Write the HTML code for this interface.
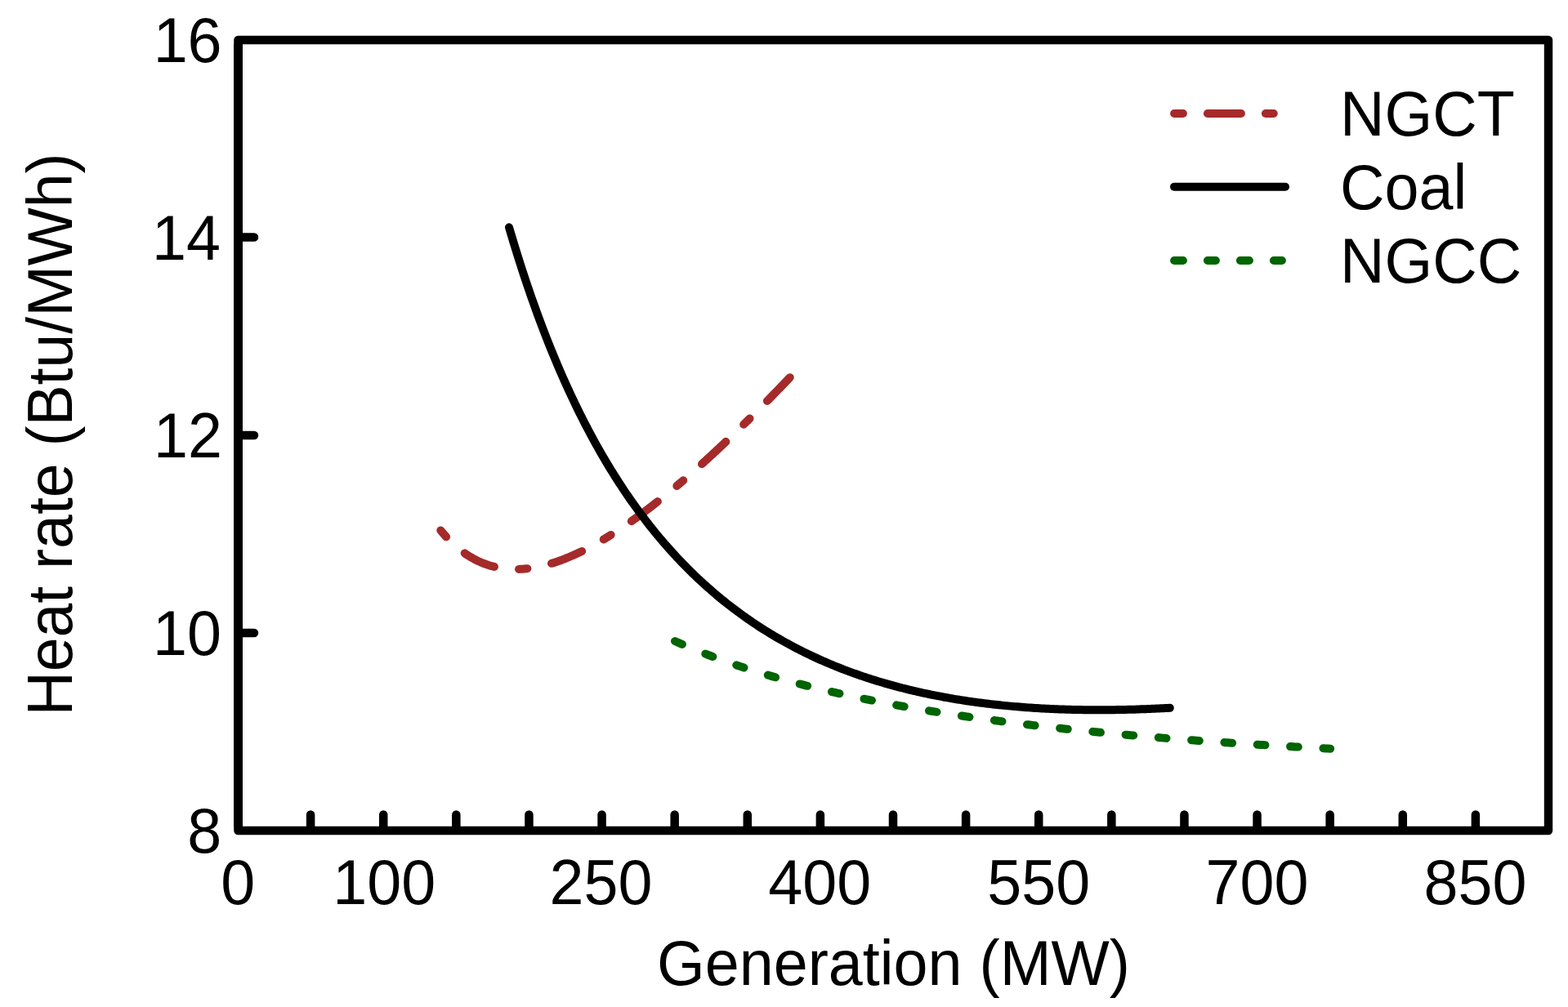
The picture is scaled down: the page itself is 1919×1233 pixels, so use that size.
<!DOCTYPE html>
<html><head><meta charset="utf-8"><title>Heat rate vs Generation</title>
<style>html,body{margin:0;padding:0;background:#fff;overflow:hidden}svg{display:block}</style></head>
<body><svg width="1919" height="1233" viewBox="0 0 1919 1233">
<rect width="1919" height="1233" fill="#fff"/>
<path d="M291.4,49 L1895,49 L1895,1017 L291.4,1017 Z" fill="none" stroke="#000" stroke-width="10.4" stroke-linejoin="round"/>
<rect x="286" y="54" width="11" height="958" fill="#000"/>
<path d="M292,290.5 L311,290.5 M292,533 L311,533 M292,775 L311,775 M380.11,1016 L380.11,997.5 M469.22,1016 L469.22,997.5 M558.33,1016 L558.33,997.5 M647.44,1016 L647.44,997.5 M736.56,1016 L736.56,997.5 M825.67,1016 L825.67,997.5 M914.78,1016 L914.78,997.5 M1003.89,1016 L1003.89,997.5 M1093.00,1016 L1093.00,997.5 M1182.11,1016 L1182.11,997.5 M1271.22,1016 L1271.22,997.5 M1360.33,1016 L1360.33,997.5 M1449.44,1016 L1449.44,997.5 M1538.55,1016 L1538.55,997.5 M1627.66,1016 L1627.66,997.5 M1716.78,1016 L1716.78,997.5 M1805.89,1016 L1805.89,997.5" stroke="#000" stroke-width="10.5" stroke-linecap="round" fill="none"/>
<path d="M826.00,785.05 L828.68,786.25 L831.37,787.43 L834.05,788.60 L836.73,789.76 L839.41,790.91 L842.10,792.04 L844.78,793.17 L847.46,794.28 L850.14,795.38 L852.83,796.47 L855.51,797.54 L858.19,798.61 L860.87,799.67 L863.56,800.71 L866.24,801.75 L868.92,802.77 L871.60,803.79 L874.29,804.80 L876.97,805.79 L879.65,806.78 L882.33,807.75 L885.02,808.72 L887.70,809.68 L890.38,810.63 L893.07,811.56 L895.75,812.49 L898.43,813.42 L901.11,814.33 L903.80,815.23 L906.48,816.13 L909.16,817.02 L911.84,817.90 L914.53,818.77 L917.21,819.63 L919.89,820.48 L922.57,821.33 L925.26,822.17 L927.94,823.00 L930.62,823.83 L933.30,824.64 L935.99,825.45 L938.67,826.25 L941.35,827.05 L944.03,827.84 L946.72,828.62 L949.40,829.39 L952.08,830.16 L954.77,830.92 L957.45,831.67 L960.13,832.42 L962.81,833.16 L965.50,833.90 L968.18,834.62 L970.86,835.35 L973.54,836.06 L976.23,836.77 L978.91,837.47 L981.59,838.17 L984.27,838.86 L986.96,839.55 L989.64,840.23 L992.32,840.90 L995.00,841.57 L997.69,842.23 L1000.37,842.89 L1003.05,843.54 L1005.73,844.19 L1008.42,844.83 L1011.10,845.46 L1013.78,846.09 L1016.47,846.72 L1019.15,847.34 L1021.83,847.95 L1024.51,848.56 L1027.20,849.17 L1029.88,849.77 L1032.56,850.36 L1035.24,850.96 L1037.93,851.54 L1040.61,852.12 L1043.29,852.70 L1045.97,853.27 L1048.66,853.84 L1051.34,854.40 L1054.02,854.96 L1056.70,855.52 L1059.39,856.06 L1062.07,856.61 L1064.75,857.15 L1067.43,857.69 L1070.12,858.22 L1072.80,858.75 L1075.48,859.28 L1078.17,859.80 L1080.85,860.31 L1083.53,860.83 L1086.21,861.33 L1088.90,861.84 L1091.58,862.34 L1094.26,862.84 L1096.94,863.33 L1099.63,863.82 L1102.31,864.31 L1104.99,864.79 L1107.67,865.27 L1110.36,865.74 L1113.04,866.22 L1115.72,866.68 L1118.40,867.15 L1121.09,867.61 L1123.77,868.07 L1126.45,868.52 L1129.13,868.97 L1131.82,869.42 L1134.50,869.87 L1137.18,870.31 L1139.87,870.75 L1142.55,871.18 L1145.23,871.61 L1147.91,872.04 L1150.60,872.47 L1153.28,872.89 L1155.96,873.31 L1158.64,873.73 L1161.33,874.14 L1164.01,874.55 L1166.69,874.96 L1169.37,875.36 L1172.06,875.76 L1174.74,876.16 L1177.42,876.56 L1180.10,876.95 L1182.79,877.34 L1185.47,877.73 L1188.15,878.12 L1190.83,878.50 L1193.52,878.88 L1196.20,879.26 L1198.88,879.63 L1201.57,880.00 L1204.25,880.37 L1206.93,880.74 L1209.61,881.10 L1212.30,881.46 L1214.98,881.82 L1217.66,882.18 L1220.34,882.53 L1223.03,882.89 L1225.71,883.23 L1228.39,883.58 L1231.07,883.93 L1233.76,884.27 L1236.44,884.61 L1239.12,884.95 L1241.80,885.28 L1244.49,885.62 L1247.17,885.95 L1249.85,886.27 L1252.53,886.60 L1255.22,886.93 L1257.90,887.25 L1260.58,887.57 L1263.27,887.88 L1265.95,888.20 L1268.63,888.51 L1271.31,888.83 L1274.00,889.13 L1276.68,889.44 L1279.36,889.75 L1282.04,890.05 L1284.73,890.35 L1287.41,890.65 L1290.09,890.95 L1292.77,891.24 L1295.46,891.54 L1298.14,891.83 L1300.82,892.12 L1303.50,892.41 L1306.19,892.69 L1308.87,892.98 L1311.55,893.26 L1314.23,893.54 L1316.92,893.82 L1319.60,894.09 L1322.28,894.37 L1324.97,894.64 L1327.65,894.91 L1330.33,895.18 L1333.01,895.45 L1335.70,895.72 L1338.38,895.98 L1341.06,896.24 L1343.74,896.50 L1346.43,896.76 L1349.11,897.02 L1351.79,897.28 L1354.47,897.53 L1357.16,897.78 L1359.84,898.04 L1362.52,898.28 L1365.20,898.53 L1367.89,898.78 L1370.57,899.02 L1373.25,899.27 L1375.93,899.51 L1378.62,899.75 L1381.30,899.99 L1383.98,900.23 L1386.67,900.46 L1389.35,900.70 L1392.03,900.93 L1394.71,901.16 L1397.40,901.39 L1400.08,901.62 L1402.76,901.84 L1405.44,902.07 L1408.13,902.29 L1410.81,902.52 L1413.49,902.74 L1416.17,902.96 L1418.86,903.18 L1421.54,903.39 L1424.22,903.61 L1426.90,903.83 L1429.59,904.04 L1432.27,904.25 L1434.95,904.46 L1437.63,904.67 L1440.32,904.88 L1443.00,905.08 L1445.68,905.29 L1448.37,905.49 L1451.05,905.70 L1453.73,905.90 L1456.41,906.10 L1459.10,906.30 L1461.78,906.50 L1464.46,906.69 L1467.14,906.89 L1469.83,907.08 L1472.51,907.28 L1475.19,907.47 L1477.87,907.66 L1480.56,907.85 L1483.24,908.04 L1485.92,908.23 L1488.60,908.41 L1491.29,908.60 L1493.97,908.78 L1496.65,908.96 L1499.33,909.14 L1502.02,909.33 L1504.70,909.51 L1507.38,909.68 L1510.07,909.86 L1512.75,910.04 L1515.43,910.21 L1518.11,910.39 L1520.80,910.56 L1523.48,910.73 L1526.16,910.90 L1528.84,911.07 L1531.53,911.24 L1534.21,911.41 L1536.89,911.58 L1539.57,911.74 L1542.26,911.91 L1544.94,912.07 L1547.62,912.23 L1550.30,912.40 L1552.99,912.56 L1555.67,912.72 L1558.35,912.88 L1561.03,913.03 L1563.72,913.19 L1566.40,913.35 L1569.08,913.50 L1571.77,913.66 L1574.45,913.81 L1577.13,913.96 L1579.81,914.11 L1582.50,914.26 L1585.18,914.41 L1587.86,914.56 L1590.54,914.71 L1593.23,914.86 L1595.91,915.00 L1598.59,915.15 L1601.27,915.29 L1603.96,915.44 L1606.64,915.58 L1609.32,915.72 L1612.00,915.86 L1614.69,916.00 L1617.37,916.14 L1620.05,916.28 L1622.73,916.42 L1625.42,916.55 L1628.10,916.69" stroke="#006400" stroke-width="10" stroke-linecap="round" fill="none" stroke-dasharray="9.7 30.71"/>
<path d="M539.30,649.42 L540.73,651.16 L542.16,652.85 L543.59,654.51 L545.02,656.12 L546.45,657.69 L547.88,659.22 L549.31,660.71 L550.74,662.16 L552.17,663.58 L553.60,664.95 L555.03,666.30 L556.46,667.60 L557.89,668.87 L559.32,670.10 L560.75,671.30 L562.18,672.47 L563.61,673.60 L565.04,674.70 L566.47,675.77 L567.90,676.80 L569.33,677.81 L570.76,678.78 L572.19,679.73 L573.62,680.64 L575.05,681.52 L576.48,682.38 L577.91,683.20 L579.34,684.00 L580.77,684.77 L582.20,685.51 L583.63,686.23 L585.06,686.92 L586.49,687.58 L587.92,688.22 L589.35,688.83 L590.78,689.42 L592.21,689.98 L593.64,690.52 L595.07,691.03 L596.50,691.52 L597.93,691.99 L599.36,692.44 L600.79,692.86 L602.22,693.26 L603.65,693.63 L605.08,693.99 L606.51,694.32 L607.94,694.63 L609.37,694.93 L610.81,695.20 L612.24,695.45 L613.67,695.68 L615.10,695.89 L616.53,696.08 L617.96,696.25 L619.39,696.41 L620.82,696.54 L622.25,696.66 L623.68,696.75 L625.11,696.83 L626.54,696.89 L627.97,696.94 L629.40,696.97 L630.83,696.98 L632.26,696.97 L633.69,696.94 L635.12,696.90 L636.55,696.85 L637.98,696.77 L639.41,696.68 L640.84,696.58 L642.27,696.46 L643.70,696.32 L645.13,696.17 L646.56,696.01 L647.99,695.83 L649.42,695.63 L650.85,695.42 L652.28,695.20 L653.71,694.96 L655.14,694.71 L656.57,694.44 L658.00,694.16 L659.43,693.87 L660.86,693.56 L662.29,693.24 L663.72,692.91 L665.15,692.57 L666.58,692.21 L668.01,691.84 L669.44,691.45 L670.87,691.06 L672.30,690.65 L673.73,690.23 L675.16,689.80 L676.59,689.36 L678.02,688.91 L679.45,688.44 L680.88,687.96 L682.31,687.47 L683.74,686.97 L685.17,686.46 L686.60,685.94 L688.03,685.41 L689.46,684.87 L690.89,684.32 L692.32,683.75 L693.75,683.18 L695.18,682.59 L696.61,682.00 L698.04,681.40 L699.47,680.78 L700.90,680.16 L702.33,679.52 L703.76,678.88 L705.19,678.23 L706.62,677.57 L708.05,676.90 L709.48,676.22 L710.91,675.53 L712.34,674.83 L713.77,674.12 L715.20,673.41 L716.63,672.68 L718.06,671.95 L719.49,671.21 L720.92,670.46 L722.35,669.70 L723.78,668.93 L725.21,668.16 L726.64,667.37 L728.07,666.58 L729.50,665.78 L730.93,664.98 L732.36,664.16 L733.79,663.34 L735.22,662.51 L736.65,661.67 L738.08,660.82 L739.51,659.97 L740.94,659.11 L742.37,658.24 L743.80,657.37 L745.23,656.49 L746.66,655.60 L748.09,654.70 L749.52,653.80 L750.95,652.89 L752.38,651.97 L753.82,651.05 L755.25,650.12 L756.68,649.18 L758.11,648.24 L759.54,647.29 L760.97,646.33 L762.40,645.37 L763.83,644.40 L765.26,643.43 L766.69,642.44 L768.12,641.46 L769.55,640.46 L770.98,639.46 L772.41,638.46 L773.84,637.44 L775.27,636.43 L776.70,635.40 L778.13,634.37 L779.56,633.34 L780.99,632.30 L782.42,631.25 L783.85,630.20 L785.28,629.14 L786.71,628.08 L788.14,627.01 L789.57,625.93 L791.00,624.85 L792.43,623.77 L793.86,622.68 L795.29,621.58 L796.72,620.48 L798.15,619.38 L799.58,618.27 L801.01,617.15 L802.44,616.03 L803.87,614.90 L805.30,613.77 L806.73,612.64 L808.16,611.50 L809.59,610.35 L811.02,609.20 L812.45,608.05 L813.88,606.89 L815.31,605.72 L816.74,604.55 L818.17,603.38 L819.60,602.20 L821.03,601.02 L822.46,599.83 L823.89,598.64 L825.32,597.45 L826.75,596.25 L828.18,595.04 L829.61,593.83 L831.04,592.62 L832.47,591.40 L833.90,590.18 L835.33,588.96 L836.76,587.73 L838.19,586.49 L839.62,585.26 L841.05,584.01 L842.48,582.77 L843.91,581.52 L845.34,580.26 L846.77,579.01 L848.20,577.75 L849.63,576.48 L851.06,575.21 L852.49,573.94 L853.92,572.66 L855.35,571.38 L856.78,570.10 L858.21,568.81 L859.64,567.52 L861.07,566.22 L862.50,564.92 L863.93,563.62 L865.36,562.32 L866.79,561.01 L868.22,559.69 L869.65,558.38 L871.08,557.06 L872.51,555.74 L873.94,554.41 L875.37,553.08 L876.80,551.75 L878.23,550.41 L879.66,549.07 L881.09,547.73 L882.52,546.38 L883.95,545.03 L885.38,543.68 L886.81,542.32 L888.24,540.97 L889.67,539.60 L891.10,538.24 L892.53,536.87 L893.96,535.50 L895.39,534.12 L896.83,532.75 L898.26,531.37 L899.69,529.98 L901.12,528.60 L902.55,527.21 L903.98,525.82 L905.41,524.42 L906.84,523.02 L908.27,521.62 L909.70,520.22 L911.13,518.81 L912.56,517.40 L913.99,515.99 L915.42,514.58 L916.85,513.16 L918.28,511.74 L919.71,510.32 L921.14,508.89 L922.57,507.47 L924.00,506.03 L925.43,504.60 L926.86,503.17 L928.29,501.73 L929.72,500.29 L931.15,498.84 L932.58,497.40 L934.01,495.95 L935.44,494.50 L936.87,493.04 L938.30,491.59 L939.73,490.13 L941.16,488.67 L942.59,487.20 L944.02,485.74 L945.45,484.27 L946.88,482.80 L948.31,481.33 L949.74,479.85 L951.17,478.37 L952.60,476.89 L954.03,475.41 L955.46,473.93 L956.89,472.44 L958.32,470.95 L959.75,469.46 L961.18,467.97 L962.61,466.47 L964.04,464.97 L965.47,463.47 L966.90,461.97" stroke="#a52a2a" stroke-width="10" stroke-linecap="round" fill="none" stroke-dasharray="10.4 30.3 40.1 30.3"/>
<path d="M623.00,278.33 L625.71,287.49 L628.41,296.48 L631.12,305.32 L633.82,314.00 L636.53,322.53 L639.23,330.91 L641.94,339.15 L644.64,347.24 L647.35,355.20 L650.05,363.02 L652.76,370.71 L655.46,378.27 L658.17,385.70 L660.87,393.01 L663.58,400.20 L666.28,407.27 L668.99,414.23 L671.69,421.07 L674.40,427.80 L677.10,434.42 L679.81,440.94 L682.51,447.35 L685.22,453.66 L687.92,459.87 L690.63,465.98 L693.33,472.00 L696.04,477.92 L698.74,483.75 L701.45,489.49 L704.15,495.14 L706.86,500.71 L709.56,506.19 L712.27,511.58 L714.97,516.90 L717.68,522.13 L720.38,527.29 L723.09,532.36 L725.79,537.37 L728.50,542.29 L731.20,547.15 L733.91,551.93 L736.61,556.64 L739.32,561.29 L742.02,565.86 L744.73,570.37 L747.43,574.81 L750.14,579.19 L752.84,583.51 L755.55,587.76 L758.25,591.95 L760.96,596.09 L763.66,600.16 L766.37,604.18 L769.07,608.13 L771.78,612.04 L774.48,615.88 L777.19,619.68 L779.89,623.42 L782.60,627.11 L785.30,630.74 L788.01,634.33 L790.71,637.86 L793.42,641.35 L796.12,644.79 L798.83,648.18 L801.53,651.52 L804.24,654.82 L806.94,658.08 L809.65,661.28 L812.35,664.45 L815.06,667.57 L817.76,670.65 L820.47,673.69 L823.17,676.68 L825.88,679.64 L828.58,682.55 L831.29,685.43 L833.99,688.27 L836.70,691.06 L839.40,693.83 L842.11,696.55 L844.81,699.24 L847.52,701.89 L850.22,704.51 L852.93,707.09 L855.63,709.63 L858.34,712.15 L861.04,714.62 L863.75,717.07 L866.45,719.48 L869.16,721.87 L871.86,724.22 L874.57,726.53 L877.27,728.82 L879.98,731.08 L882.68,733.31 L885.39,735.50 L888.09,737.67 L890.80,739.81 L893.50,741.92 L896.21,744.01 L898.91,746.06 L901.62,748.09 L904.32,750.09 L907.03,752.07 L909.73,754.02 L912.44,755.94 L915.14,757.84 L917.85,759.71 L920.55,761.56 L923.26,763.38 L925.96,765.18 L928.67,766.96 L931.37,768.71 L934.08,770.44 L936.78,772.14 L939.49,773.83 L942.19,775.49 L944.90,777.13 L947.60,778.74 L950.31,780.34 L953.01,781.91 L955.72,783.46 L958.42,784.99 L961.13,786.50 L963.83,787.99 L966.54,789.46 L969.24,790.91 L971.95,792.35 L974.65,793.76 L977.36,795.15 L980.06,796.52 L982.77,797.88 L985.47,799.21 L988.18,800.53 L990.88,801.83 L993.59,803.11 L996.29,804.38 L999.00,805.63 L1001.70,806.85 L1004.41,808.07 L1007.11,809.26 L1009.82,810.44 L1012.52,811.61 L1015.23,812.75 L1017.93,813.88 L1020.64,815.00 L1023.34,816.09 L1026.05,817.18 L1028.75,818.25 L1031.46,819.30 L1034.16,820.34 L1036.87,821.36 L1039.57,822.37 L1042.28,823.36 L1044.98,824.34 L1047.69,825.30 L1050.39,826.25 L1053.10,827.19 L1055.80,828.11 L1058.51,829.02 L1061.21,829.91 L1063.92,830.80 L1066.62,831.66 L1069.33,832.52 L1072.03,833.36 L1074.74,834.19 L1077.44,835.01 L1080.15,835.81 L1082.85,836.61 L1085.56,837.39 L1088.26,838.15 L1090.97,838.91 L1093.67,839.65 L1096.38,840.38 L1099.08,841.10 L1101.79,841.81 L1104.49,842.51 L1107.20,843.19 L1109.90,843.87 L1112.61,844.53 L1115.31,845.18 L1118.02,845.82 L1120.72,846.45 L1123.43,847.07 L1126.13,847.68 L1128.84,848.28 L1131.54,848.87 L1134.25,849.45 L1136.95,850.01 L1139.66,850.57 L1142.36,851.12 L1145.07,851.66 L1147.77,852.18 L1150.48,852.70 L1153.18,853.21 L1155.89,853.71 L1158.59,854.20 L1161.30,854.68 L1164.00,855.15 L1166.71,855.61 L1169.41,856.06 L1172.12,856.50 L1174.82,856.94 L1177.53,857.36 L1180.23,857.78 L1182.94,858.19 L1185.64,858.59 L1188.35,858.98 L1191.05,859.36 L1193.76,859.74 L1196.46,860.10 L1199.17,860.46 L1201.87,860.81 L1204.58,861.15 L1207.28,861.48 L1209.99,861.81 L1212.69,862.12 L1215.40,862.43 L1218.10,862.74 L1220.81,863.03 L1223.51,863.32 L1226.22,863.60 L1228.92,863.87 L1231.63,864.13 L1234.33,864.39 L1237.04,864.64 L1239.74,864.88 L1242.45,865.11 L1245.15,865.34 L1247.86,865.56 L1250.56,865.78 L1253.27,865.98 L1255.97,866.18 L1258.68,866.38 L1261.38,866.56 L1264.09,866.74 L1266.79,866.92 L1269.50,867.08 L1272.20,867.24 L1274.91,867.40 L1277.61,867.54 L1280.32,867.68 L1283.02,867.82 L1285.73,867.95 L1288.43,868.07 L1291.14,868.18 L1293.84,868.29 L1296.55,868.40 L1299.25,868.49 L1301.96,868.59 L1304.66,868.67 L1307.37,868.75 L1310.07,868.83 L1312.78,868.89 L1315.48,868.96 L1318.19,869.01 L1320.89,869.06 L1323.60,869.11 L1326.30,869.15 L1329.01,869.18 L1331.71,869.21 L1334.42,869.24 L1337.12,869.26 L1339.83,869.27 L1342.53,869.28 L1345.24,869.28 L1347.94,869.27 L1350.65,869.27 L1353.35,869.25 L1356.06,869.24 L1358.76,869.21 L1361.47,869.18 L1364.17,869.15 L1366.88,869.11 L1369.58,869.07 L1372.29,869.02 L1374.99,868.97 L1377.70,868.91 L1380.40,868.85 L1383.11,868.78 L1385.81,868.71 L1388.52,868.63 L1391.22,868.55 L1393.93,868.46 L1396.63,868.37 L1399.34,868.28 L1402.04,868.18 L1404.75,868.07 L1407.45,867.97 L1410.16,867.85 L1412.86,867.74 L1415.57,867.61 L1418.27,867.49 L1420.98,867.36 L1423.68,867.22 L1426.39,867.09 L1429.09,866.94 L1431.80,866.80" stroke="#000" stroke-width="10" stroke-linecap="round" stroke-linejoin="round" fill="none"/>
<path d="M1437.1,139 L1447.9,139 M1477.9,139 L1518.9,139 M1548.9,139 L1558.75,139" stroke="#a52a2a" stroke-width="10" stroke-linecap="round"/>
<path d="M1437,228.75 L1573,228.75" stroke="#000" stroke-width="10" stroke-linecap="round"/>
<path d="M1437.1,319 L1447.9,319 M1477.9,319 L1487.9,319 M1517.9,319 L1528.9,319 M1558.9,319 L1568.9,319" stroke="#006400" stroke-width="10" stroke-linecap="round"/>
<g font-family="'Liberation Sans', Arial, sans-serif" font-size="75.5" fill="#000"><text transform="translate(271.6,76.0) scale(1,1.0405)" text-anchor="end">16</text><text transform="translate(270.0,317.5) scale(1,1.0405)" text-anchor="end">14</text><text transform="translate(271.88,560.0) scale(1,1.0405)" text-anchor="end">12</text><text transform="translate(271.0,802.0) scale(1,1.0405)" text-anchor="end">10</text><text transform="translate(271.2,1044.0) scale(1,1.0405)" text-anchor="end">8</text><text transform="translate(291.14,1107.4) scale(1,1.0405)" text-anchor="middle">0</text><text transform="translate(470.23,1107.4) scale(1,1.0405)" text-anchor="middle">100</text><text transform="translate(735.44,1107.4) scale(1,1.0405)" text-anchor="middle">250</text><text transform="translate(1003.27,1107.4) scale(1,1.0405)" text-anchor="middle">400</text><text transform="translate(1271.24,1107.4) scale(1,1.0405)" text-anchor="middle">550</text><text transform="translate(1538.57,1107.4) scale(1,1.0405)" text-anchor="middle">700</text><text transform="translate(1805.59,1107.4) scale(1,1.0405)" text-anchor="middle">850</text><text transform="translate(1093.5,1205.6) scale(1,1.0405)" text-anchor="middle">Generation (MW)</text><text transform="translate(88,532) rotate(-90) scale(0.9956,1.0405)" text-anchor="middle">Heat rate (Btu/MWh)</text><text transform="translate(1640,165.5) scale(1,1.0405)" text-anchor="start">NGCT</text><text transform="translate(1640,255.5) scale(1,1.0405)" text-anchor="start">Coal</text><text transform="translate(1640,346) scale(1,1.0405)" text-anchor="start">NGCC</text></g>
</svg></body></html>
